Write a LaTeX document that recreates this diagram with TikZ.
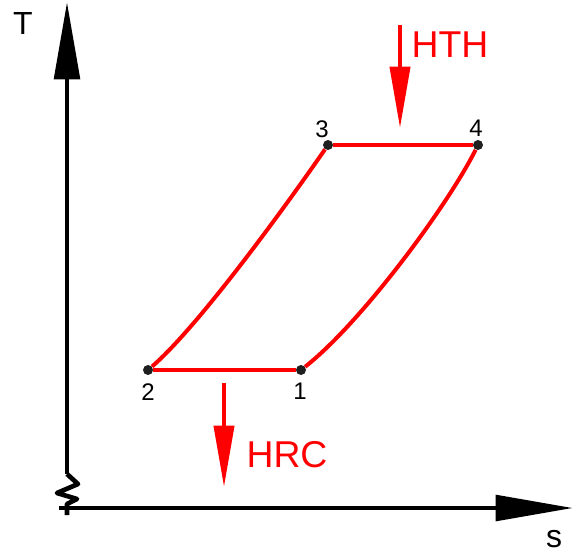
\documentclass[tikz,border=0pt]{standalone}
\usepackage{fontspec}
\setmainfont{Liberation Sans}
\usetikzlibrary{arrows.meta}

\begin{document}
\begin{tikzpicture}[x=.75pt,y=-.75pt,
  axis/.style={line width=3.5pt,-{Triangle[length=58pt,width=19pt]}},
  heat/.style={red,line width=3pt,-{Triangle[length=46pt,width=15pt]}},
  cyc/.style={red,line width=3pt},
  pt/.style={circle,fill=black!88,inner sep=0pt,minimum size=7.5pt},
  num/.style={font=\fontsize{18}{18}\selectfont},
  lab/.style={font=\fontsize{24}{24}\selectfont},
  big/.style={red,font=\fontsize{28}{28}\selectfont}]
\useasboundingbox (0,0) rectangle (577,554);
% axes
\coordinate (ybrk) at (67,474);
\coordinate (ybot) at (67,515);
\coordinate (ytop) at (67,2);
\coordinate (xbeg) at (59,508);
\coordinate (xend) at (573,508);
\draw[axis] (ybrk) -- (ytop);
\draw[axis] (xbeg) -- (xend);
\draw[line width=3.5pt,line join=round] (ybrk) -- (78,484) -- (57,493) -- (77,499) -- (67,504) -- (ybot);
\node[lab] (tlab) at (23,23) {T};
\node[lab] (slab) at (554,539) {s};
% cycle
\node[pt] (p1) at (301,370) {};
\node[pt] (p2) at (148,370) {};
\node[pt] (p3) at (328,145) {};
\node[pt] (p4) at (478,145) {};
\draw[cyc] (p2) -- (p1);
\draw[cyc] (p3) -- (p4);
\draw[cyc] (p2) .. controls (200,325) and (290,200) .. (p3);
\draw[cyc] (p1) .. controls (362,322) and (448,205) .. (p4);
\node[num] (n1) at (300,391) {1};
\node[num] (n2) at (148,392) {2};
\node[num] (n3) at (322,129) {3};
\node[num] (n4) at (476,128) {4};
% heat flows
\coordinate (hthtop) at (400,25);
\coordinate (hthend) at (400,128);
\coordinate (hrctop) at (224,383);
\coordinate (hrcend) at (224,487);
\draw[heat] (hthtop) -- (hthend);
\draw[heat] (hrctop) -- (hrcend);
\node[big] (hth) at (450,45) {HTH};
\node[big] (hrc) at (287,455) {HRC};
\end{tikzpicture}
\end{document}
